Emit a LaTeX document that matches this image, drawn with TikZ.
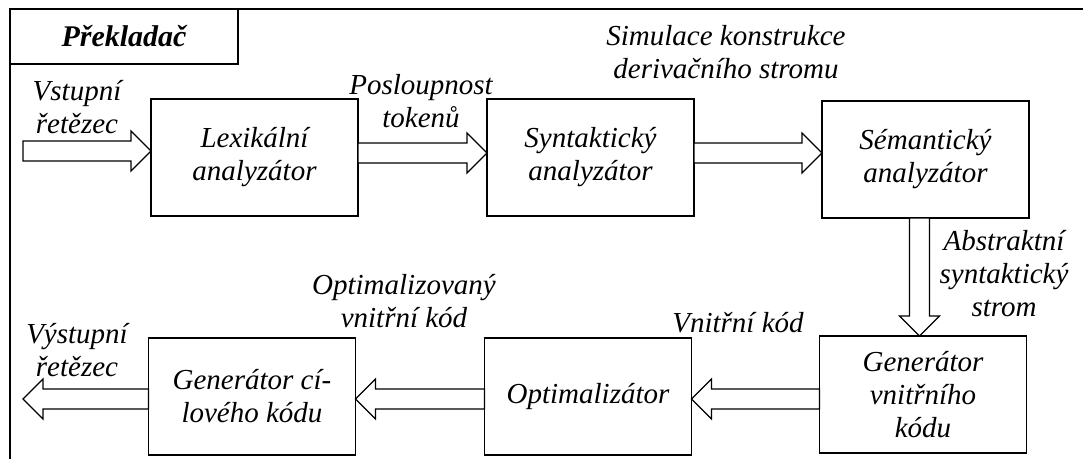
\documentclass[tikz,border=0pt]{standalone}
\usepackage{fontspec}
\setmainfont{Liberation Serif}
\usetikzlibrary{calc}
\newcommand\lblfont{\fontsize{29}{33}\selectfont\itshape}
\newcommand\fatarrow[2]{%
  \draw[fatline] let \p3=($(#2)!20pt!(#1)$) in
    ($(#1)!10pt!90:(#2)$) -- ($(\p3)!10pt!90:(#2)$) -- ($(\p3)!20pt!90:(#2)$) -- (#2)
    -- ($(\p3)!20pt!-90:(#2)$) -- ($(\p3)!10pt!-90:(#2)$) -- ($(#1)!10pt!-90:(#2)$) -- cycle;}
\tikzset{
  box/.style={draw, line width=1.2pt, minimum width=207pt, minimum height=117pt,
    inner sep=0pt, outer sep=0pt, align=center, font=\lblfont},
  lbl/.style={inner sep=0pt, align=center, font=\lblfont},
  fatline/.style={draw, line width=1.1pt, line join=miter, fill=white},
}
\begin{document}
\begin{tikzpicture}[x=1pt, y=-1pt]
\useasboundingbox (0,0) rectangle (1083,459);
% frame
\draw[line width=2pt] (1083,9) -- (10,9) -- (10,459);
\node[draw, line width=1.3pt, minimum width=228pt, minimum height=55pt, inner sep=0pt, outer sep=0pt,
  font=\fontsize{30}{34}\selectfont\bfseries\itshape] (title) at (124,36.5) {Překladač};
% boxes
\node[box] (b1) at (254.5,157.5) {Lexikální\\analyzátor};
\node[box] (b2) at (590.5,157.5) {Syntaktický\\analyzátor};
\node[box] (b3) at (925.5,159.5) {Sémantický\\analyzátor};
\node[box] (g1) at (923,394.5) {Generátor\\vnitřního\\kódu};
\node[box] (op) at (588,396.5) {Optimalizátor};
\node[box] (gc) at (252,396.5) {Generátor cí-\\lového kódu};
% helper coordinates
\coordinate (in) at (23,151);
\coordinate (r1) at (0,153);
\coordinate (c4) at (919.5,0);
\coordinate (r2) at (0,399);
\coordinate (out) at (23,399);
% block arrows
\fatarrow{in}{in -| b1.west}
\fatarrow{b1.east |- r1}{b2.west |- r1}
\fatarrow{b2.east |- r1}{b3.west |- r1}
\fatarrow{b3.south -| c4}{g1.north -| c4}
\fatarrow{g1.west |- r2}{op.east |- r2}
\fatarrow{op.west |- r2}{gc.east |- r2}
\fatarrow{gc.west |- out}{out}
% labels
\node[lbl] (l1) at (77,107.5) {Vstupní\\řetězec};
\node[lbl] (l2) at (421,101.5) {Posloupnost\\tokenů};
\node[lbl] (l3) at (726,52) {Simulace konstrukce\\derivačního stromu};
\node[lbl] (l4) at (1004,274) {Abstraktní\\syntaktický\\strom};
\node[lbl] (l5) at (404,301.5) {Optimalizovaný\\vnitřní kód};
\node[lbl] (l6) at (738,323) {Vnitřní kód};
\node[lbl] (l7) at (77,350.5) {Výstupní\\řetězec};
\end{tikzpicture}
\end{document}
